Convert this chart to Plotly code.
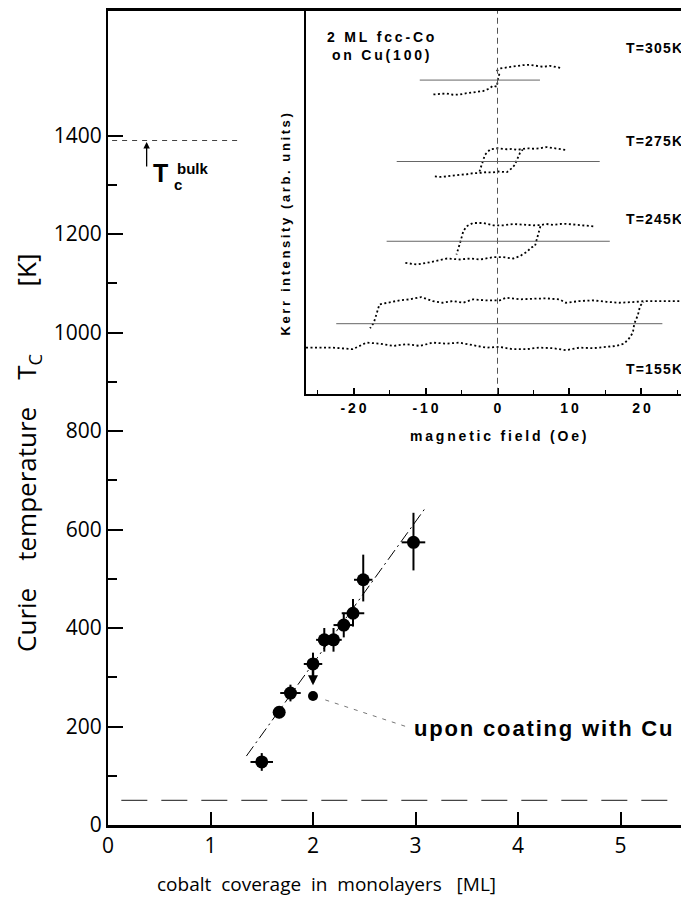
import plotly.graph_objects as go

# main panel: Curie temperature vs cobalt coverage
coverage = [1.50, 1.67, 1.78, 2.00, 2.11, 2.20, 2.30, 2.39, 2.49, 2.98]
tc = [128, 229, 268, 327, 376, 376, 406, 430, 498, 574]
cov_err = [0.11, 0.05, 0.10, 0.09, 0.08, 0.08, 0.10, 0.11, 0.09, 0.115]
tc_err_up = [18, 12, 17, 23, 24, 24, 25, 29, 51, 60]
tc_err_down = [18, 12, 17, 23, 24, 24, 25, 27, 44, 57]

coated_cov = [2.00]
coated_tc = [262]

fit_x = [1.35, 3.09]
fit_y = [140, 642]

pointer_x = [2.12, 2.95]
pointer_y = [254, 197]

tc_bulk = 1390
t_low = 50

# inset: Kerr loops of 2 ML fcc-Co on Cu(100)
h305_up = [8.7, 7.9, 7.3, 6.3, 5.4, 4.5, 3.6, 2.7, 1.8, 1.0, 0.35, -0.3]
k305_up = [326, 327.5, 328, 327, 327.7, 329, 328.7, 327.5, 327, 326, 325.3, 322]
h305_lo = [-8.9, -8.0, -7.1, -6.2, -5.2, -4.3, -3.4, -2.7, -2.0, -1.3, -0.6, -0.1, 0.1, 0.35]
k305_lo = [299.3, 299.8, 300.3, 299.0, 299.3, 300.5, 301.3, 301.8, 302.7, 304.7, 308, 307, 316, 322]

h275_up = [9.4, 8.6, 7.8, 6.8, 5.9, 5.0, 4.05, 3.3, 2.7, 2.0, 1.3, 0.1, -1.0, -1.74, -2.2, -2.5]
k275_up = [243.7, 244.5, 246, 246.5, 245.3, 244.8, 245.3, 244, 243.7, 244.6, 244.3, 245.3, 244.3, 238.7, 228.7, 222]
h275_lo = [-8.7, -7.9, -7.1, -6.2, -5.2, -4.3, -3.4, -2.5, -1.5, -0.7, 0.1, 1.3, 2.0, 2.4, 2.8, 3.1, 3.5]
k275_lo = [217, 216.5, 217, 218, 218.7, 219.2, 220.3, 220.5, 221.3, 221, 222, 221.3, 225.3, 228.7, 234.7, 240.3, 244]

h245_up = [13.3, 12.0, 10.5, 9.5, 8.7, 7.7, 6.8, 6.0, 5.0, 3.6, 2.2, 0.8, -0.6, -2.0, -3.4, -4.3, -4.75, -5.2, -5.7]
k245_up = [167, 168, 168.7, 169.5, 169.3, 168.5, 169.3, 168.2, 168, 168.7, 169.3, 168, 168, 170.3, 170.3, 167, 162, 150.3, 138.7]
h245_lo = [-12.8, -11.2, -9.8, -8.4, -7.0, -5.2, -3.8, -2.4, -0.6, 0.8, 2.2, 3.1, 4.05, 4.75, 5.2, 5.7, 6.0]
k245_lo = [130.3, 128.7, 130.3, 132.7, 134.7, 133.7, 134.7, 133.7, 136, 136, 134.7, 137, 141.3, 146, 147, 160.3, 168]

h155_up = [26.5, 23.4, 20.6, 18.8, 16.9, 15.1, 13.2, 11.4, 9.5, 8.6, 6.8, 4.9, 3.1, 1.2, 0.3, -1.6, -3.4,
           -4.8, -6.2, -7.6, -9.0, -10.6, -12.2, -13.6, -15.5, -16.4, -16.8, -17.2, -17.7]
k155_up = [92, 92, 92, 91, 90.3, 91.3, 92.7, 92, 90.3, 93.7, 94.7, 94.3, 93.7, 95.3, 92.7, 92.7, 93.7,
           90.3, 92, 90.3, 92, 96, 93.7, 92.7, 90.3, 88.7, 79, 70, 64.7]
h155_lo = [-26.6, -22.9, -20.1, -18.2, -16.4, -14.5, -12.7, -10.8, -9.0, -7.1, -5.3, -3.4, -1.6, 0.3, 2.1,
           4.0, 5.8, 7.7, 9.5, 11.4, 13.2, 15.1, 16.5, 17.6, 18.3, 18.8, 19.0, 19.5, 19.8, 20.3]
k155_lo = [45.3, 45.3, 43.7, 50.3, 49.3, 47, 48.7, 47, 50.3, 49.3, 50.3, 48, 45.3, 46, 43.7,
           43.7, 45.3, 44.7, 42.7, 45.3, 44.7, 46, 47, 49.3, 54.7, 60.3, 69.3, 78, 87, 91]

temps = ["T=305K", "T=275K", "T=245K", "T=155K"]
base_level = [313.7, 232, 152, 69.3]
base_hmin = [-10.8, -14.0, -15.4, -22.4]
base_hmax = [5.9, 14.2, 15.6, 22.9]
label_level = [346, 253, 174, 24]

BOLD = dict(family="Liberation Sans", color="black", weight="bold")
THIN = dict(family="Open Sans", color="black", weight=400)


def spaced(s, sep="\u2009"):
    # the printed labels are letter-spaced
    return sep.join(s)


# page has an 8px body margin, so the plot area sits at x 108..689, y 9..825
PX0, PY0, PW, PH = 108, 9, 581, 816


def px(x):
    return (x - PX0) / PW


def py(y):
    return (PY0 + PH - y) / PH


fig = go.Figure()

# fit line
fig.add_trace(go.Scatter(x=fit_x, y=fit_y, mode="lines",
                         line=dict(color="black", width=1, dash="12px,4px,2px,4px")))
# pointer to the label
fig.add_trace(go.Scatter(x=pointer_x, y=pointer_y, mode="lines",
                         line=dict(color="#777", width=1, dash="4px,6px")))
# data with error crosses
fig.add_trace(go.Scatter(
    x=coverage, y=tc, mode="markers",
    marker=dict(color="black", size=13, symbol="circle"),
    error_x=dict(type="data", array=cov_err, color="black", thickness=2, width=0),
    error_y=dict(type="data", symmetric=False, array=tc_err_up, arrayminus=tc_err_down,
                 color="black", thickness=2, width=0),
))
fig.add_trace(go.Scatter(x=coated_cov, y=coated_tc, mode="markers",
                         marker=dict(color="black", size=10)))

# inset loops
loops = [(h305_up, k305_up), (h305_lo, k305_lo), (h275_up, k275_up), (h275_lo, k275_lo),
         (h245_up, k245_up), (h245_lo, k245_lo), (h155_up, k155_up), (h155_lo, k155_lo)]
for hh, kk in loops:
    fig.add_trace(go.Scatter(x=hh, y=kk, mode="lines", xaxis="x2", yaxis="y2",
                             line=dict(color="black", width=1.8, dash="2px,2.5px")))
for lev, h0, h1 in zip(base_level, base_hmin, base_hmax):
    fig.add_trace(go.Scatter(x=[h0, h1], y=[lev, lev], mode="lines", xaxis="x2", yaxis="y2",
                             line=dict(color="#666", width=1)))

# dashed reference lines in the main panel
fig.add_shape(type="line", xref="x", yref="y", x0=0.04, x1=1.29, y0=tc_bulk, y1=tc_bulk,
              line=dict(color="#444", width=1, dash="5px,5px"))
fig.add_shape(type="line", xref="x", yref="y", x0=0.13, x1=5.67, y0=t_low, y1=t_low,
              line=dict(color="#444", width=1.2, dash="26px,14px"))
# zero-field line of the inset
fig.add_shape(type="line", xref="x2", yref="y2 domain", x0=0, x1=0, y0=0, y1=1,
              line=dict(color="#555", width=1, dash="6px,4px"))

nb = "\u00a0"
C = dict(xanchor="center", yanchor="middle", showarrow=False)
ann = [
    dict(x=coated_cov[0], y=284, ax=coated_cov[0], ay=tc[3], xref="x", yref="y", axref="x", ayref="y",
         showarrow=True, arrowhead=2, arrowsize=0.8, arrowwidth=2.5, arrowcolor="black", text=""),
    dict(x=0.377, y=1387, ax=0.377, ay=1334, xref="x", yref="y", axref="x", ayref="y",
         showarrow=True, arrowhead=2, arrowsize=1, arrowwidth=1.3, arrowcolor="black", text=""),
    dict(C, x=0.51, y=1324, xref="x", yref="y", text="T", font=dict(BOLD, size=25)),
    dict(C, x=0.82, y=1334, xref="x", yref="y", text="bulk", font=dict(BOLD, size=15)),
    dict(C, x=0.68, y=1301, xref="x", yref="y", text="c", font=dict(BOLD, size=15)),
    dict(C, x=4.25, y=196, xref="x", yref="y", text=spaced("upon coating with Cu", "\u200a"),
         font=dict(BOLD, size=22)),
    dict(C, x=px(326), y=py(884), xref="paper", yref="paper",
         text=f"cobalt{nb}{nb}coverage{nb}{nb}in{nb}{nb}monolayers{nb}{nb}{nb}[ML]",
         font=dict(THIN, size=19)),
    dict(C, x=px(27), y=py(452), xref="paper", yref="paper", textangle=-90,
         text=f"Curie{nb * 4}temperature{nb * 4}T<sub>C</sub>{nb * 10}[K]",
         font=dict(THIN, size=26)),
    dict(C, x=px(380), y=py(44), xref="paper", yref="paper",
         text=spaced("2 ML fcc-Co") + "<br>" + spaced("on Cu(100)"),
         align="center", font=dict(BOLD, size=14)),
    dict(C, x=px(498), y=py(435), xref="paper", yref="paper",
         text=spaced("magnetic field (Oe)"), font=dict(BOLD, size=14)),
    dict(C, x=px(285), y=py(223), xref="paper", yref="paper", textangle=-90,
         text=spaced("Kerr intensity (arb. units)"), font=dict(BOLD, size=13)),
]
for t, lev in zip(temps, label_level):
    ann.append(dict(x=25.9, y=lev, xref="x2", yref="y2", xanchor="right", yanchor="middle",
                    text=spaced(t, "\u200a"), showarrow=False, font=dict(BOLD, size=14)))

fig.update_layout(
    width=681, height=894,
    margin=dict(l=100, r=0, t=1, b=77),
    plot_bgcolor="white", paper_bgcolor="white",
    showlegend=False,
    annotations=ann,
    xaxis=dict(range=[0, 5.668], showline=True, linewidth=3, linecolor="black", mirror=True,
               ticks="inside", ticklen=13, tickwidth=2, tickcolor="black",
               tickvals=[0, 1, 2, 3, 4, 5], tickfont=dict(THIN, size=21),
               showgrid=False, zeroline=False),
    yaxis=dict(range=[0, 1653], showline=True, linewidth=2, linecolor="black",
               ticks="inside", ticklen=15, tickwidth=2, tickcolor="black",
               tickvals=[0, 200, 400, 600, 800, 1000, 1200, 1400], tickfont=dict(THIN, size=21),
               minor=dict(tickvals=[100, 300, 500, 700, 900, 1100, 1300], ticks="inside",
                          ticklen=9, tickwidth=2, tickcolor="black"),
               showgrid=False, zeroline=False),
    xaxis2=dict(domain=[px(306), 1], anchor="y2", range=[-26.6, 26.6],
                showline=True, linewidth=2, linecolor="black",
                ticks="inside", ticklen=6, tickwidth=1.5, tickcolor="black",
                tickvals=[-20, -10, 0, 10, 20],
                ticktext=[spaced("-20"), spaced("-10"), "0", spaced("10"), spaced("20")],
                tickfont=dict(BOLD, size=14),
                minor=dict(tickvals=[-25, -15, -5, 5, 15, 25], ticks="inside", ticklen=4,
                           tickwidth=1.2, tickcolor="black"),
                showgrid=False, zeroline=False),
    yaxis2=dict(domain=[py(392.7), 1], anchor="x2", range=[-1, 383],
                showline=True, linewidth=1.5, linecolor="black", showticklabels=False,
                ticks="", showgrid=False, zeroline=False),
)

fig.write_html("out.html")
